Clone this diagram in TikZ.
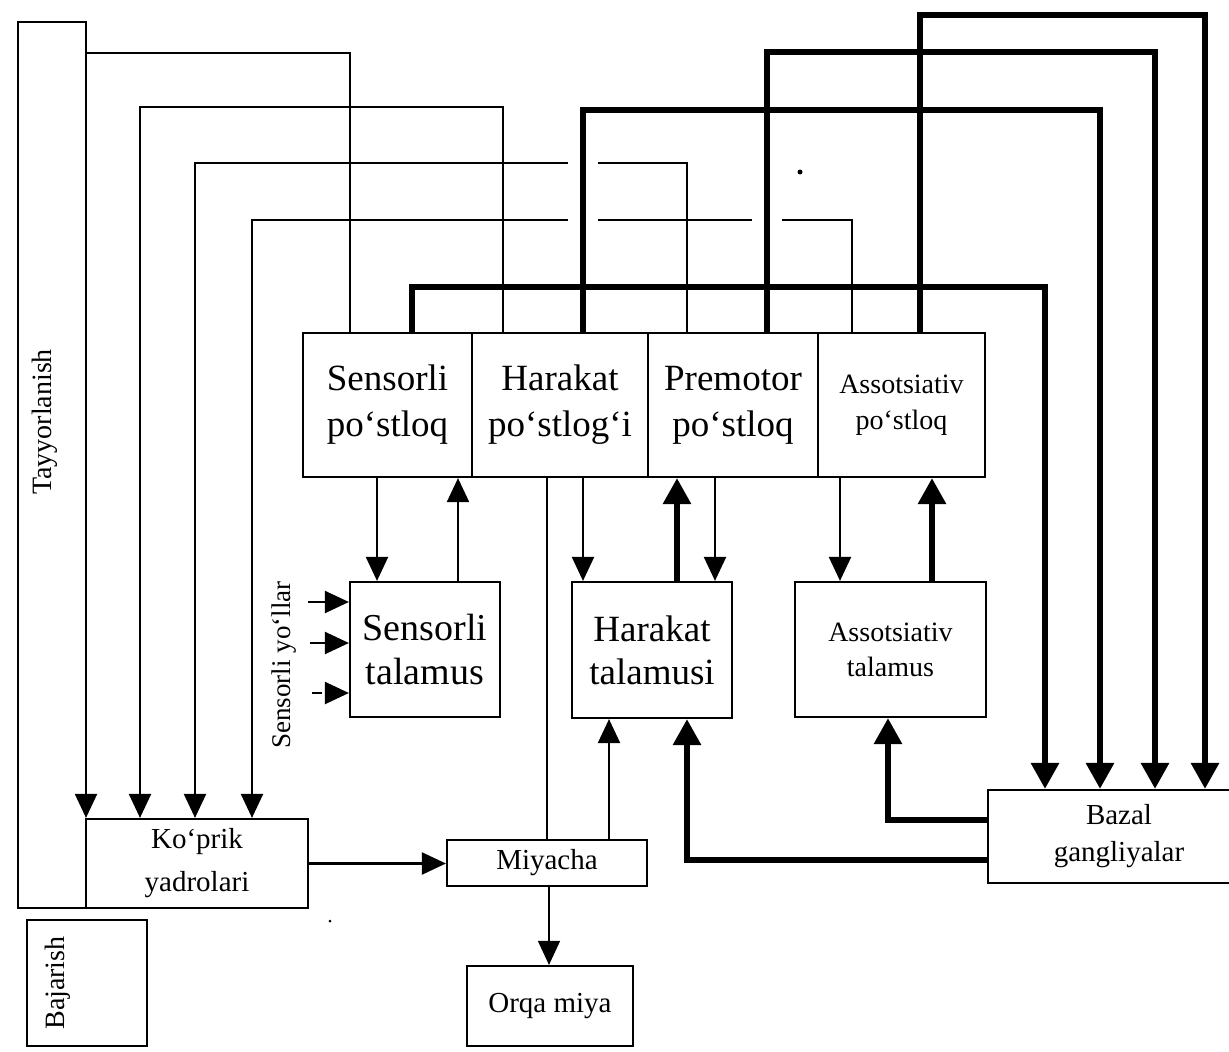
\documentclass[tikz,border=0pt]{standalone}
\usepackage{fontspec}
\setmainfont{Liberation Serif}
\usetikzlibrary{arrows.meta}
\begin{document}
\begin{tikzpicture}[x=1pt,y=-1pt,
  box/.style={draw,line width=2.2pt,inner sep=0pt,align=center},
  big/.style={font=\fontsize{37}{46}\selectfont},
  sml/.style={font=\fontsize{28}{36}\selectfont},
  thin/.style={line width=2.2pt},
  thk/.style={line width=6pt},
  arr/.style={-{Triangle[length=24pt,width=22pt]}},
  tarr/.style={-{Triangle[length=26pt,width=27pt]}}]
\useasboundingbox (0,0) rectangle (1229,1052);

% cortex row
\node[box,big,minimum width=169pt,minimum height=144pt] (sp) at (387.5,405) {Sensorli\\po`stloq};
\node[box,big,minimum width=176pt,minimum height=144pt] (hp) at (560,405) {Harakat\\po`stlog`i};
\node[box,big,minimum width=170pt,minimum height=144pt] (pm) at (733,405) {Premotor\\po`stloq};
\node[box,sml,minimum width=167pt,minimum height=144pt] (ap) at (901.5,405) {Assotsiativ\\po`stloq};

% thalamus row
\node[box,font=\fontsize{38}{44}\selectfont,minimum width=150pt,minimum height=135pt] (st) at (425,649.5) {Sensorli\\talamus};
\node[box,font=\fontsize{37}{43}\selectfont,minimum width=160pt,minimum height=136pt] (ht) at (652,650) {Harakat\\talamusi};
\node[box,font=\fontsize{28}{35}\selectfont,minimum width=191pt,minimum height=135pt] (at) at (890.5,649.5) {Assotsiativ\\talamus};

% lower boxes
\node[box,font=\fontsize{29}{43}\selectfont,minimum width=222pt,minimum height=89pt] (kp) at (197,863.5) {Ko`prik\\yadrolari};
\node[box,font=\fontsize{29}{36}\selectfont,minimum width=200pt,minimum height=46pt] (my) at (547,863) {Miyacha};
\node[box,font=\fontsize{29}{36}\selectfont,minimum width=166pt,minimum height=80pt] (om) at (550,1006) {Orqa miya};
\node[box,font=\fontsize{29}{37}\selectfont,minimum width=262pt,minimum height=93pt] (bg) at (1119,836.5) {Bazal\\gangliyalar};
\node[box,minimum width=120pt,minimum height=126pt] (bj) at (87,983) {};
\node[sml,rotate=90] (bjt) at (58,983) {Bajarish};
\node[sml,rotate=90] (tyt) at (45,422) {Tayyorlanish};
\node[font=\fontsize{27}{30}\selectfont,rotate=90] (syl) at (284,665) {Sensorli yo`llar};

% tall "Tayyorlanish" box, its right edge runs into Ko'prik
\draw[thin,arr] (86,908) -- (18,908) -- (18,22) -- (86,22) -- (86,22 |- kp.north);

% thin feedback loops to Ko'prik
\draw[thin] ([xshift=-37.5pt]sp.north) |- (86,53);
\draw[thin,arr] ([xshift=-57pt]hp.north) |- (140,107) -- (140,107 |- kp.north);
\draw[thin,arr] ([xshift=-46pt]pm.north) |- (195,163) -- (195,163 |- kp.north);
\draw[thin,arr] ([xshift=-49.5pt]ap.north) |- (252,220) -- (252,220 |- kp.north);

% gaps where thin lines pass thick ones
\fill[white] (568,157) rectangle (598,169);
\fill[white] (568,214) rectangle (598,226);
\fill[white] (752,214) rectangle (782,226);

% thick loops to Bazal gangliyalar
\draw[thk,tarr] ([xshift=24.5pt]sp.north) |- (1045,287) -- (1045,287 |- bg.north);
\draw[thk,tarr] ([xshift=23pt]hp.north) |- (1100,110) -- (1100,110 |- bg.north);
\draw[thk,tarr] ([xshift=34pt]pm.north) |- (1155,52) -- (1155,52 |- bg.north);
\draw[thk,tarr] ([xshift=18.5pt]ap.north) |- (1205,15) -- (1205,15 |- bg.north);

% Bazal -> thalamus
\draw[thk,tarr] ([yshift=16.5pt]bg.west) -| ([xshift=-2.5pt]at.south);
\draw[thk,tarr] ([yshift=-23.5pt]bg.west) -| ([xshift=35pt]ht.south);

% cortex <-> thalamus
\draw[thin,arr] (377,0 |- sp.south) -- (377,0 |- st.north);
\draw[thin,arr] (458,0 |- st.north) -- (458,0 |- sp.south);
\draw[thin,arr] (583,0 |- hp.south) -- (583,0 |- ht.north);
\draw[thk,tarr] (677,0 |- ht.north) -- (677,0 |- pm.south);
\draw[thin,arr] (715,0 |- pm.south) -- (715,0 |- ht.north);
\draw[thin,arr] (840,0 |- ap.south) -- (840,0 |- at.north);
\draw[thk,tarr] (932,0 |- at.north) -- (932,0 |- ap.south);

% cerebellum connections
\draw[thin] (547,0 |- hp.south) -- (547,0 |- my.north);
\draw[thin,arr] (609,0 |- my.north) -- (609,0 |- ht.south);
\draw[thin,arr] (kp.east) -- (kp.east -| my.west);
\draw[line width=1.5pt,arr] (549,0 |- my.south) -- (549,0 |- om.north);

% sensory pathways
\draw[thin,arr] (308,602) -- (st.west |- 0,602);
\draw[thin,arr] (310,643) -- (st.west |- 0,643);
\draw[thin] (312,693) -- (322,693);
\draw[thin,arr] (326,693) -- (st.west |- 0,693);

% specks
\fill (800,172) circle (2.5);
\fill (330,921) circle (1.5);
\end{tikzpicture}
\end{document}
